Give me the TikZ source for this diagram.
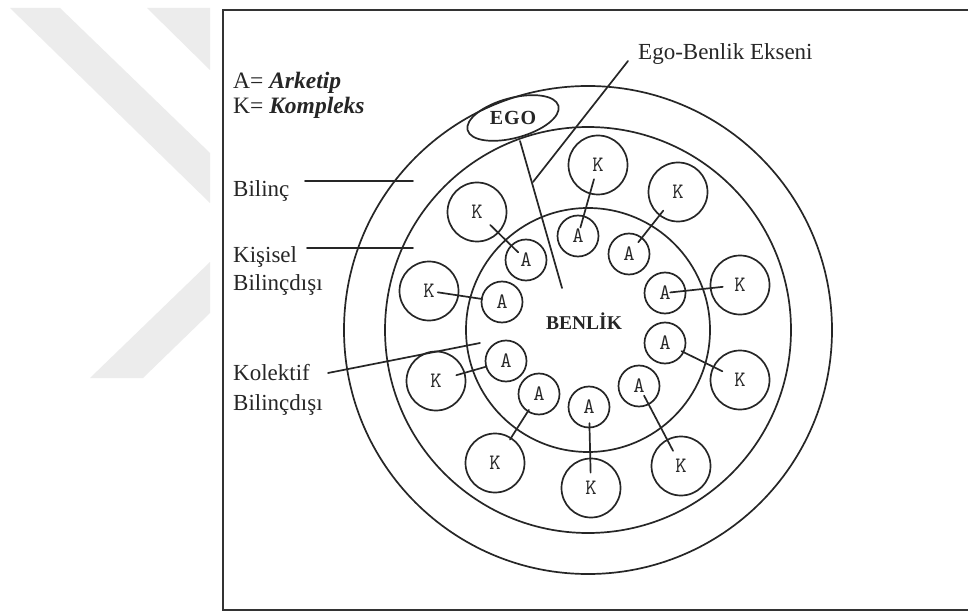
\documentclass[tikz,border=0pt]{standalone}
\usepackage{fontspec}
\setmainfont{Liberation Serif}
\usetikzlibrary{calc}
\begin{document}
\begin{tikzpicture}[x=1pt,y=-1pt,line cap=round,
  ln/.style={line width=1.7pt,draw=black!85},
  kc/.style={circle,draw=black!85,line width=1.7pt,minimum size=59pt,inner sep=0pt,font=\ttfamily\fontsize{22}{22}\selectfont,text=black!85},
  ac/.style={circle,draw=black!85,line width=1.7pt,minimum size=41pt,inner sep=0pt,font=\ttfamily\fontsize{22}{22}\selectfont,text=black!85},
  lbl/.style={anchor=base west,inner sep=0pt,align=left,text=black!85,font=\fontsize{23}{28}\selectfont},
  wm/.style={fill=black!7.5}]
\useasboundingbox (0,0) rectangle (968,612);
\fill[white] (0,0) rectangle (968,612);
% watermark
\fill[wm] (10,8) -- (60,8) -- (210,153) -- (210,203) -- cycle;
\fill[wm] (147,8) -- (210,8) -- (210,70) -- cycle;
\fill[wm] (210,262) -- (210,313) -- (143,378) -- (90,378) -- cycle;
% frame
\draw[line width=2pt,draw=black!80] (980,10) -- (223,10) -- (223,610) -- (980,610);
% rings
\coordinate (ctr) at (588,330);
\draw[ln] (ctr) circle (244);
\draw[ln] (ctr) circle (203);
\draw[ln] (ctr) circle (122);
% K and A
\foreach \i/\kx/\ky/\ax/\ay/\s/\e in {
  1/477/212/526/260/0.27/0.84,
  2/429/291/502/302/0.12/0.73,
  3/598/165/578/236/0.20/0.88,
  4/678/192/629/254/0.30/0.81,
  5/740/285/665/293/0.23/0.93,
  6/740/380/665/343/0.235/0.78,
  7/681/466/639/386/0.19/0.88,
  8/591/488/589/407/0.19/0.80,
  9/495/463/539/394/0.34/0.77,
  10/436/381/506/361/0.29/0.72}{
  \node[kc] (k\i) at (\kx,\ky) {K};
  \node[ac] (a\i) at (\ax,\ay) {A};
  \draw[ln] ($(k\i)!\s!(a\i)$) -- ($(k\i)!\e!(a\i)$);
}
% centre text
\node[font=\bfseries\fontsize{19.5}{20}\selectfont,text=black!85] (benlik) at (584,321) {BENLİK};
% EGO
\node[font=\bfseries\fontsize{20}{20}\selectfont,text=black!85] (ego) at (513,118) {E\kern1pt G\kern1pt O};
\draw[ln,rotate around={15:(ego)}] (ego) ellipse [x radius=47,y radius=20];
\coordinate (egoB) at (520,141);
\coordinate (egoE) at (562,288);
\draw[ln] (egoB) -- (egoE);
% axis label
\node[lbl] (axis) at (638,60) {Ego-Benlik Ekseni};
\coordinate (axS) at (628,61);
\coordinate (axE) at (533,182);
\draw[ln] (axS) -- (axE);
% legend
\node[lbl,font=\fontsize{23.5}{25}\selectfont] (leg) at (233,114) {A= \textbf{\textit{Arketip}}\\K= \textbf{\textit{Kompleks}}};
% left labels
\node[lbl] (bilinc) at (233,197) {Bilinç};
\coordinate (bS) at (305,181);
\coordinate (bE) at (413,181);
\draw[ln] (bS) -- (bE);
\node[lbl] (kisisel) at (233,290) {Kişisel\\Bilinçdışı};
\coordinate (kS) at (307,248);
\coordinate (kE) at (413,248);
\draw[ln] (kS) -- (kE);
\node[lbl,font=\fontsize{23}{30}\selectfont] (kolektif) at (233,410) {Kolektif\\Bilinçdışı};
\coordinate (oS) at (328,373);
\coordinate (oE) at (480,343);
\draw[ln] (oS) -- (oE);
\end{tikzpicture}
\end{document}
